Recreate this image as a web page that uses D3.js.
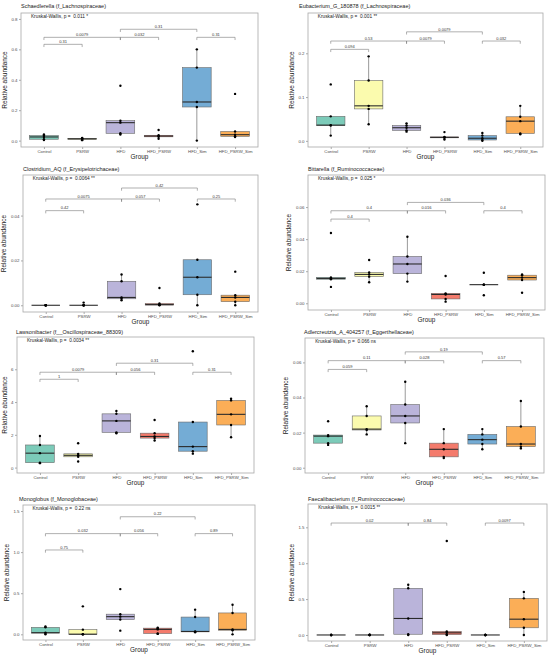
<!DOCTYPE html>
<html>
<head>
<meta charset="utf-8">
<script src="https://cdn.jsdelivr.net/npm/d3@7"></script>
<style>
  body { margin: 0; background: #fff; }
  text { font-family: "Liberation Sans", Arial, sans-serif; }
</style>
</head>
<body>
<script>
// groups shared by all eight panels
const groups = ["Control", "PSRW", "HFD", "HFD_PSRW", "HFD_Sim", "HFD_PSRW_Sim"];
const colors = ["#7ccbb9", "#fbfbae", "#bab4da", "#f47b6c", "#74acd5", "#fbae57"];

const titles = [
  "Schaedlerella (f_Lachnospiraceae)",
  "Eubacterium_G_180878 (f_Lachnospiraceae)",
  "Clostridium_AQ (f_Erysipelotrichaceae)",
  "Bittarella (f_Ruminococcaceae)",
  "Lawsonibacter (f__Oscillospiraceae_88309)",
  "Adlercreutzia_A_404257 (f_Eggerthellaceae)",
  "Monoglobus (f_Monoglobaceae)",
  "Faecalibacterium (f_Ruminococcaceae)"
];
const kwLabels = [
  "Kruskal-Wallis, p =  0.011 *",
  "Kruskal-Wallis, p =  0.001 **",
  "Kruskal-Wallis, p =  0.0064 **",
  "Kruskal-Wallis, p =  0.025 *",
  "Kruskal-Wallis, p =  0.0034 **",
  "Kruskal-Wallis, p =  0.066 ns",
  "Kruskal-Wallis, p =  0.22 ns",
  "Kruskal-Wallis, p =  0.0015 **"
];

// relative abundance, 5 samples per group
const schaedlerella = [
  [0.004, 0.009, 0.024, 0.033, 0.040],
  [0.003, 0.008, 0.012, 0.015, 0.018],
  [0.040, 0.048, 0.118, 0.131, 0.361],
  [0.012, 0.025, 0.030, 0.035, 0.070],
  [0.000, 0.221, 0.254, 0.480, 0.600],
  [0.024, 0.028, 0.039, 0.060, 0.307]
];
const eubacterium = [
  [0.012, 0.035, 0.036, 0.056, 0.129],
  [0.038, 0.073, 0.080, 0.138, 0.193],
  [0.021, 0.024, 0.030, 0.035, 0.040],
  [0.003, 0.007, 0.008, 0.009, 0.020],
  [0.000, 0.002, 0.006, 0.012, 0.018],
  [0.015, 0.017, 0.045, 0.055, 0.080]
];
const clostridium = [
  [0.0000, 0.0000, 0.0000, 0.0000, 0.0000],
  [0.0000, 0.0000, 0.0000, 0.0000, 0.0012],
  [0.0022, 0.0029, 0.0035, 0.0107, 0.0137],
  [0.0000, 0.0001, 0.0003, 0.0008, 0.0077],
  [0.0000, 0.0047, 0.0125, 0.0203, 0.0450],
  [0.0000, 0.0016, 0.0035, 0.0045, 0.0150]
];
const bittarella = [
  [0.0102, 0.0150, 0.0155, 0.0161, 0.0438],
  [0.0131, 0.0166, 0.0180, 0.0192, 0.0270],
  [0.0135, 0.0185, 0.0245, 0.0292, 0.0415],
  [0.0010, 0.0027, 0.0055, 0.0062, 0.0170],
  [0.0050, 0.0116, 0.0116, 0.0116, 0.0190],
  [0.0066, 0.0145, 0.0160, 0.0175, 0.0180]
];
const lawsonibacter = [
  [0.27, 0.30, 0.88, 1.38, 1.93],
  [0.37, 0.66, 0.75, 0.84, 1.49],
  [2.10, 2.15, 2.85, 3.28, 3.45],
  [1.65, 1.80, 1.90, 2.10, 2.90],
  [0.85, 1.00, 1.28, 2.78, 7.10],
  [1.85, 2.60, 3.25, 4.10, 4.20]
];
const adlercreutzia = [
  [0.0130, 0.0140, 0.0180, 0.0186, 0.0265],
  [0.0190, 0.0215, 0.0220, 0.0295, 0.0350],
  [0.0140, 0.0255, 0.0295, 0.0360, 0.0490],
  [0.0055, 0.0062, 0.0105, 0.0140, 0.0220],
  [0.0105, 0.0135, 0.0160, 0.0190, 0.0220],
  [0.0110, 0.0120, 0.0135, 0.0235, 0.0380]
];
const monoglobus = [
  [0.000, 0.015, 0.020, 0.085, 0.095],
  [0.000, 0.000, 0.002, 0.057, 0.340],
  [0.045, 0.180, 0.215, 0.245, 0.550],
  [0.005, 0.010, 0.060, 0.075, 0.080],
  [0.025, 0.030, 0.035, 0.210, 0.300],
  [0.000, 0.050, 0.060, 0.260, 0.360]
];
const faecalibacterium = [
  [0.000, 0.000, 0.000, 0.000, 0.000],
  [0.000, 0.000, 0.000, 0.000, 0.005],
  [0.000, 0.010, 0.230, 0.650, 0.700],
  [0.000, 0.005, 0.030, 0.050, 1.310],
  [0.000, 0.000, 0.000, 0.000, 0.000],
  [0.000, 0.100, 0.220, 0.510, 0.600]
];

// pairwise comparisons: [group a, group b, bracket height, p label]
const schaedlerellaPairs = [
  ["Control", "PSRW", 0.633, "0.31"], ["Control", "HFD", 0.679, "0.0079"],
  ["HFD", "HFD_PSRW", 0.679, "0.032"], ["HFD", "HFD_Sim", 0.732, "0.31"],
  ["HFD_Sim", "HFD_PSRW_Sim", 0.679, "0.31"]
];
const eubacteriumPairs = [
  ["Control", "PSRW", 0.209, "0.094"], ["Control", "HFD", 0.228, "0.53"],
  ["HFD", "HFD_PSRW", 0.228, "0.0079"], ["HFD", "HFD_Sim", 0.249, "0.0079"],
  ["HFD_Sim", "HFD_PSRW_Sim", 0.228, "0.032"]
];
const clostridiumPairs = [
  ["Control", "PSRW", 0.0422, "0.42"], ["Control", "HFD", 0.0474, "0.0075"],
  ["HFD", "HFD_PSRW", 0.0474, "0.057"], ["HFD", "HFD_Sim", 0.0523, "0.42"],
  ["HFD_Sim", "HFD_PSRW_Sim", 0.0474, "0.25"]
];
const bittarellaPairs = [
  ["Control", "PSRW", 0.0525, "0.4"], ["Control", "HFD", 0.0577, "0.4"],
  ["HFD", "HFD_PSRW", 0.0577, "0.016"], ["HFD", "HFD_Sim", 0.0629, "0.036"],
  ["HFD_Sim", "HFD_PSRW_Sim", 0.0577, "0.4"]
];
const lawsonibacterPairs = [
  ["Control", "PSRW", 5.39, "1"], ["Control", "HFD", 5.82, "0.0079"],
  ["HFD", "HFD_PSRW", 5.82, "0.056"], ["HFD", "HFD_Sim", 6.37, "0.31"],
  ["HFD_Sim", "HFD_PSRW_Sim", 5.82, "0.31"]
];
const adlercreutziaPairs = [
  ["Control", "PSRW", 0.056, "0.059"], ["Control", "HFD", 0.061, "0.11"],
  ["HFD", "HFD_PSRW", 0.061, "0.028"], ["HFD", "HFD_Sim", 0.066, "0.19"],
  ["HFD_Sim", "HFD_PSRW_Sim", 0.061, "0.57"]
];
const monoglobusPairs = [
  ["Control", "PSRW", 1.026, "0.75"], ["Control", "HFD", 1.225, "0.032"],
  ["HFD", "HFD_PSRW", 1.225, "0.056"], ["HFD", "HFD_Sim", 1.43, "0.22"],
  ["HFD_Sim", "HFD_PSRW_Sim", 1.225, "0.89"]
];
const faecalibacteriumPairs = [
  ["Control", "HFD", 1.56, "0.02"], ["HFD", "HFD_PSRW", 1.56, "0.84"],
  ["HFD_Sim", "HFD_PSRW_Sim", 1.56, "0.0097"]
];

// y tick values and visible y range of each panel
const yTicks = [
  [0, 0.2, 0.4, 0.6, 0.8], [0, 0.1, 0.2], [0, 0.02, 0.04], [0, 0.02, 0.04, 0.06],
  [0, 2, 4, 6], [0, 0.02, 0.04, 0.06], [0, 0.5, 1.0, 1.5], [0, 0.5, 1.0, 1.5]
];
const yFormats = [".1f", ".1f", ".2f", ".2f", "d", ".2f", ".1f", ".1f"];
const yDomains = [
  [-0.042, 0.839], [-0.014, 0.292], [-0.003, 0.0581], [-0.0042, 0.080],
  [-0.33, 7.97], [-0.003, 0.0739], [-0.069, 1.573], [-0.084, 1.825]
];

const allValues = [schaedlerella, eubacterium, clostridium, bittarella,
                   lawsonibacter, adlercreutzia, monoglobus, faecalibacterium];
const allPairs = [schaedlerellaPairs, eubacteriumPairs, clostridiumPairs, bittarellaPairs,
                  lawsonibacterPairs, adlercreutziaPairs, monoglobusPairs, faecalibacteriumPairs];

// panel frames in the page: [x0, y0, x1, y1, title x, title y]
const frames = [
  [21, 13, 258, 147, 21, 6],
  [308, 13, 543, 147, 299, 6],
  [23, 175, 258, 312, 23, 169],
  [308, 175, 545, 310, 308, 169],
  [17, 337, 254, 473, 16, 332],
  [305, 338, 544, 473, 304, 332],
  [23, 505, 255, 640, 19, 499],
  [308, 504, 547, 641, 308, 499]
];

const svg = d3.select("body").append("svg")
  .attr("width", 550)
  .attr("height", 658);

function boxStats(vals){
  let s = vals.slice().sort(d3.ascending);
  let q1 = d3.quantile(s, 0.25), med = d3.quantile(s, 0.5), q3 = d3.quantile(s, 0.75);
  let iqr = q3 - q1;
  let lo = d3.min(s.filter(v => v >= q1 - 1.5 * iqr));
  let hi = d3.max(s.filter(v => v <= q3 + 1.5 * iqr));
  return {q1, med, q3, lo, hi};
}

function drawPanel(i){
  let [x0, y0, x1, y1, tx, ty] = frames[i];
  let g = svg.append("g");
  let x = d3.scalePoint().domain(groups).range([x0, x1]).padding(0.6);
  let y = d3.scaleLinear().domain(yDomains[i]).range([y1, y0]);
  let bw = x.step() * 0.75;

  // title
  g.append("text")
    .attr("x", tx).attr("y", ty)
    .attr("dy", "0.35em")
    .attr("font-size", 5.5)
    .attr("fill", "#1a1a1a")
    .text(titles[i]);

  // y axis
  let yAxis = g.append("g")
    .attr("transform", `translate(${x0},0)`)
    .call(d3.axisLeft(y).tickValues(yTicks[i]).tickFormat(d3.format(yFormats[i])).tickSize(2).tickPadding(1.5));
  yAxis.select(".domain").remove();
  yAxis.selectAll(".tick line").attr("stroke", "#555").attr("stroke-width", 0.5);
  yAxis.selectAll(".tick text")
    .attr("font-size", 4.4)
    .attr("font-family", "Liberation Sans, Arial, sans-serif")
    .attr("fill", "#4d4d4d");
  let yw = yAxis.node().getBBox().width;

  g.append("text")
    .attr("transform", `translate(${x0 - yw - 4.5},${(y0 + y1) / 2}) rotate(-90)`)
    .attr("text-anchor", "middle")
    .attr("font-size", 6.5)
    .attr("fill", "#1a1a1a")
    .text("Relative abundance");

  // x axis
  let xAxis = g.append("g")
    .attr("transform", `translate(0,${y1})`)
    .call(d3.axisBottom(x).tickSize(2).tickPadding(1.2));
  xAxis.select(".domain").remove();
  xAxis.selectAll(".tick line").attr("stroke", "#555").attr("stroke-width", 0.5);
  xAxis.selectAll(".tick text")
    .attr("font-size", 4.3)
    .attr("font-family", "Liberation Sans, Arial, sans-serif")
    .attr("fill", "#4d4d4d");

  g.append("text")
    .attr("x", (x0 + x1) / 2).attr("y", y1 + 10.2)
    .attr("dy", "0.35em")
    .attr("text-anchor", "middle")
    .attr("font-size", 6.4)
    .attr("fill", "#1a1a1a")
    .text("Group");

  // boxes
  let vals = allValues[i];
  let stats = vals.map(boxStats);
  let box = g.selectAll(".box")
    .data(groups)
    .enter().append("g")
    .attr("class", "box");

  box.append("line")
    .attr("x1", d => x(d)).attr("x2", d => x(d))
    .attr("y1", (d, k) => y(stats[k].hi)).attr("y2", (d, k) => y(stats[k].q3))
    .attr("stroke", "#333").attr("stroke-width", 0.5);
  box.append("line")
    .attr("x1", d => x(d)).attr("x2", d => x(d))
    .attr("y1", (d, k) => y(stats[k].q1)).attr("y2", (d, k) => y(stats[k].lo))
    .attr("stroke", "#333").attr("stroke-width", 0.5);
  box.append("rect")
    .attr("x", d => x(d) - bw / 2)
    .attr("width", bw)
    .attr("y", (d, k) => y(stats[k].q3))
    .attr("height", (d, k) => Math.max(0, y(stats[k].q1) - y(stats[k].q3)))
    .attr("fill", (d, k) => colors[k])
    .attr("stroke", "#6a6a6a")
    .attr("stroke-width", 0.6);
  box.append("line")
    .attr("x1", d => x(d) - bw / 2).attr("x2", d => x(d) + bw / 2)
    .attr("y1", (d, k) => y(stats[k].med)).attr("y2", (d, k) => y(stats[k].med))
    .attr("stroke", "#2b2b2b").attr("stroke-width", 1.1);

  // sample points
  box.selectAll("circle")
    .data((d, k) => vals[k].map(v => ({g: d, v: v})))
    .enter().append("circle")
    .attr("cx", d => x(d.g))
    .attr("cy", d => y(d.v))
    .attr("r", 1.2)
    .attr("fill", "#000");

  // comparison brackets
  let tip = 2.7;
  let br = g.selectAll(".bracket")
    .data(allPairs[i])
    .enter().append("g")
    .attr("class", "bracket");
  br.append("path")
    .attr("d", d => `M${x(d[0])},${y(d[2]) + tip}V${y(d[2])}H${x(d[1])}V${y(d[2]) + tip}`)
    .attr("fill", "none")
    .attr("stroke", "#7a7a7a")
    .attr("stroke-width", 0.6);
  br.append("text")
    .attr("x", d => (x(d[0]) + x(d[1])) / 2)
    .attr("y", d => y(d[2]) - 1.3)
    .attr("text-anchor", "middle")
    .attr("font-size", 4)
    .attr("fill", "#333")
    .text(d => d[3]);

  // Kruskal-Wallis label
  g.append("text")
    .attr("x", x("Control") - 13)
    .attr("y", y0 + 3.6)
    .attr("dy", "0.35em")
    .attr("font-size", 4.8)
    .attr("fill", "#1a1a1a")
    .style("white-space", "pre")
    .text(kwLabels[i]);

  // panel border
  g.append("rect")
    .attr("x", x0).attr("y", y0)
    .attr("width", x1 - x0).attr("height", y1 - y0)
    .attr("fill", "none")
    .attr("stroke", "#a8a8a8")
    .attr("stroke-width", 0.8);
}

d3.range(8).forEach(drawPanel);
</script>
</body>
</html>
